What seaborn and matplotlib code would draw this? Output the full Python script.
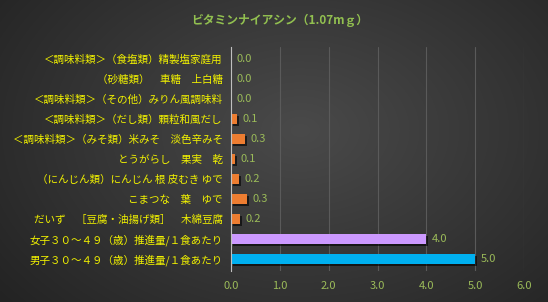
import numpy as np
import matplotlib
matplotlib.use("Agg")
import matplotlib.pyplot as plt
import matplotlib.patheffects as pe
import seaborn as sns

title = "ビタミンナイアシン（1.07mｇ）"
categories = [
    "＜調味料類＞（食塩類）精製塩家庭用",
    "（砂糖類）　車糖　上白糖",
    "＜調味料類＞（その他）みりん風調味料",
    "＜調味料類＞（だし類）顆粒和風だし",
    "＜調味料類＞（みそ類）米みそ　淡色辛みそ",
    "とうがらし　果実　乾",
    "（にんじん類）にんじん 根 皮むき ゆで",
    "こまつな　葉　ゆで",
    "だいず　［豆腐・油揚げ類］　木綿豆腐",
    "女子３０～４９（歳）推進量/１食あたり",
    "男子３０～４９（歳）推進量/１食あたり",
]
values = [0.0, 0.0, 0.0, 0.12, 0.28, 0.08, 0.16, 0.33, 0.18, 4.0, 5.0]
colors = ["#ED7D31"] * 9 + ["#CC99FF", "#00B0F0"]
xticks = [0.0, 1.0, 2.0, 3.0, 4.0, 5.0, 6.0]

sns.set_theme(style="dark")
plt.rcParams["font.family"] = ["Noto Sans CJK JP", "DejaVu Sans"]

fig = plt.figure(figsize=(5.48, 3.02), dpi=100)

# gradient background
bg = fig.add_axes([0, 0, 1, 1], zorder=-10)
yy, xx = np.mgrid[0:302, 0:548]
cx, cy = 300, 130
d = np.sqrt(((xx - cx) / 330.0) ** 2 + ((yy - cy) / 230.0) ** 2)
val = np.clip(0.29 - 0.13 * d, 0.13, 0.29)
bg.imshow(np.dstack([val, val, val]), aspect="auto", extent=[0, 1, 0, 1])
bg.set_axis_off()

ax = fig.add_axes([231 / 548, 1 - 271 / 302, (524 - 231) / 548, (271 - 47) / 302])
ax.set_facecolor("none")

sns.barplot(x=values, y=categories, hue=categories, palette=colors,
            legend=False, orient="h", width=0.5, ax=ax, saturation=1,
            linewidth=0)

for p in ax.patches:
    p.set_linewidth(0)
    p.set_path_effects([pe.SimplePatchShadow(offset=(1.5, -1.5), shadow_rgbFace="black", alpha=0.6), pe.Normal()])

green = "#9BBB59"
for i, v in enumerate(values):
    ax.text(v + 0.12, i, f"{v:.1f}", va="center", ha="left", color=green, fontsize=8)

ax.set_xlim(0, 6)
ax.set_ylim(10.6, -0.6)
ax.set_xticks(xticks)
ax.set_xticklabels([f"{t:.1f}" for t in xticks], color=green, fontsize=8)
ax.tick_params(axis="x", length=0, pad=7)
ax.tick_params(axis="y", length=0, pad=6, labelsize=7.6, labelcolor="#F2F200")
ax.set_xlabel("")
ax.set_ylabel("")
ax.grid(axis="x", color="#5a5a5a", linewidth=0.8)
ax.grid(axis="y", visible=False)
ax.set_axisbelow(True)
for s in ["top", "right", "bottom"]:
    ax.spines[s].set_visible(False)
ax.spines["left"].set_color("#BFBFBF")
ax.spines["left"].set_linewidth(0.8)

fig.text(280 / 548, 1 - 20 / 302, title, ha="center", va="center", color="#92C050",
         fontsize=8.5, fontweight="bold")

fig.savefig("out.png", dpi=100)
